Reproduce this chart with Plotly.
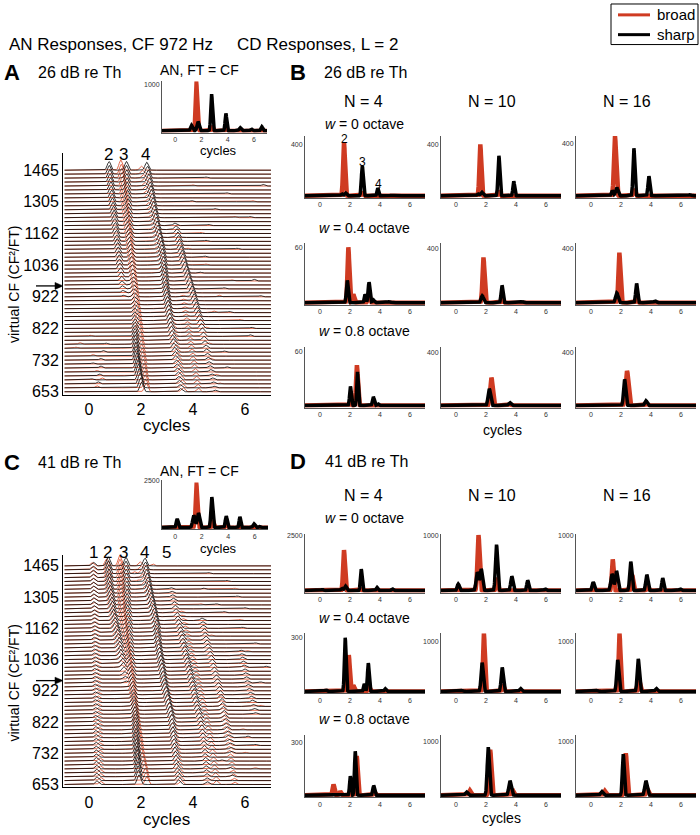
import numpy as np
import plotly.graph_objects as go

W, H = 700, 835
FONT = "Liberation Sans, Arial, sans-serif"
RED = "#cf3b22"
RED_WF = "#de5a3a"

# ---------------- shared tick data ----------------
ROW_TICKS = [0, 8, 16, 24, 32, 40, 48, 56]
ROW_LABELS = ["653", "732", "822", "922", "1036", "1162", "1305", "1465"]
CYCLE_TICKS = [0, 2, 4, 6]

# ---------------- Panel A waterfall (26 dB) ----------------
# ridge: first row, peak position per row (1/100 cycle), peak height per row (1/10 row spacing)
A_k2_row0 = 24
A_k2_x = [132,130,128,126,125,123,121,119,117,116,114,112,110,108,107,105,103,101,99,98,96,94,92,90,89,87,85,84,83,81,80,78,77]
A_k2_a = [4,6,8,10,12,13,14,15,15,16,16,16,17,17,17,18,18,18,18,19,19,19,19,20,20,20,20,21,21,21,22,22,22]

A_r3_row0 = 0
A_r3_x = [220,218,216,215,213,211,209,208,206,204,202,201,199,197,195,194,192,190,188,187,185,183,181,180,178,176,174,173,171,169,167,166,164,162,160,159,157,155,153,152,150,148,146,145,143,141,139,138,136,134,132,131,129,127,125,124,122]
A_r3_a = [22,22,23,23,23,22,22,21,21,20,20,20,20,20,20,20,20,20,20,20,21,21,21,21,21,21,21,21,21,21,21,21,21,21,21,22,22,22,22,22,22,22,22,23,23,23,23,23,24,24,24,24,25,25,25,25,26]

A_k3_row0 = 0
A_k3_x = [202,199,196,193,190,188,186,184,182,181,180,179,178,178,177,177,177,177,176,176,175,175,174,174,173,172,171,170,169,168,167,166,165,164,163,162,161,160,159,158,157,156,155,154,153,152,151,150,149,148,147,146,146,145,145,144,144]
A_k3_a = [24,26,28,29,30,30,30,29,28,27,26,25,24,22,20,18,16,14,13,12,12,11,11,10,10,10,10,10,10,10,10,11,11,12,12,12,13,13,13,14,14,15,15,16,16,17,17,18,18,19,19,20,20,21,21,22,22]

A_k4_row0 = 0
A_k4_x = [352,350,347,345,343,340,338,336,333,331,329,326,324,321,319,317,314,312,310,308,306,304,302,300,298,296,295,293,292,290,289,287,286,284,282,280,278,275,272,268,265,262,259,256,254,251,248,246,243,240,238,235,233,230,228,225,222]
A_k4_a = [8,8,9,9,10,10,11,11,12,12,13,13,14,14,15,16,17,18,19,20,21,22,22,23,23,23,23,23,23,23,23,22,22,22,22,22,22,21,21,21,21,21,21,21,21,21,21,21,21,21,21,20,20,20,20,20,20]

A_r4_row0 = 0
A_r4_x = [362,360,358,355,353,350,348,345,343,340,338,335,333,330,328,325,322,320,317,314,311,308,305,302,299,296,293,290,287,284,281,278,275,272,269,266,263,260,257,254,251,248,245,242,239,236,233,230,227,224,221,218,215,212,209,205,201]
A_r4_a = [10,10,10,10,10,10,10,10,10,9,9,9,9,9,9,9,9,8,8,8,8,8,8,8,8,7,7,7,7,7,7,7,7,7,7,7,7,7,7,7,7,7,7,7,7,7,8,8,8,8,8,9,9,9,9,10,10]

A_k5_row0 = 0
A_k5_x = [485,482,478,475,472,468,465,461,458,455,452,449,445,442,439,435,432,428,424,420,416,412,408,404,400,396,391,387,382,378,374,369,365,361,358,354,351,348,345,341,338,334,330]
A_k5_a = [4,4,5,5,5,6,6,6,7,7,8,8,9,10,11,12,13,14,15,16,16,17,17,18,18,18,18,19,19,19,19,19,19,19,18,18,17,16,15,14,12,9,6]

A_r5_row0 = 0
A_r5_x = [420,418,415,413,410,408,405,403,400,398,395,393,390,388,385,383,380,378,375,373,370,368,365,363,360]
A_r5_a = [9,9,9,9,9,9,9,9,9,8,8,8,8,8,8,8,8,7,7,6,6,5,5,4,4]

# small isolated bumps: (row, position in cycles, height in 1/10 row)
A_minor_black = [(2,0.35,5),(4,0.40,5),(6,0.45,5),(8,0.45,4),(10,0.55,4),(12,0.65,3),(3,0.10,3),(7,0.15,3),
                 (30,4.25,3),(34,4.45,3),(38,4.5,3),(42,4.6,3),(46,4.85,3),(50,5.3,3),(36,5.7,3),(28,6.35,4),
                 (24,6.6,3),(44,6.2,3),(52,6.7,4),(54,4.5,3),(48,3.95,3),(26,5.2,3),(20,5.4,3),(14,6.2,4),
                 (16,6.25,3),(10,5.2,3),(6,5.3,3)]
A_minor_red = [(1,0.30,5),(3,0.50,5),(5,0.30,4),(9,0.15,4),(12,-0.35,4),(11,-0.5,3),(14,0.05,3),
               (20,4.8,4),(24,5.0,4),(28,5.5,3),(32,4.5,3),(36,3.8,3),(40,4.3,3),(44,5.6,3),(48,6.3,3),
               (52,4.0,3),(18,5.8,3),(8,4.7,4),(4,4.9,4),(2,5.0,3),(16,4.5,4),(12,4.6,4)]

# ---------------- Panel C waterfall (41 dB) ----------------
C_k1_row0 = 0
C_k1_x = [30,30,29,29,29,28,28,28,28,27,27,27,27,26,26,26,26,25,25,25,25,24,24,24,24,23,23,23,23,22,22,22,22,21,21,21,21,20,20,20,20,19,19,19,19,19,18,18,18,18,18,17,17,17,17,17,17]
C_k1_a = [9,9,9,9,9,9,9,8,8,8,8,8,8,8,8,8,8,7,7,7,7,7,7,7,7,7,7,7,7,7,7,7,7,7,7,7,7,7,7,7,7,7,7,7,7,8,8,8,8,8,8,8,8,9,9,9,9]

C_r1_row0 = 0
C_r1_x = [45,45,44,44,43,43,42,42,41,41,40,40,39,39,38,38,37,37,36,36,35,35,34,34,33,33,32,32,31,31,30,30,29,29,28,28,27,27,26,26,25,24,23,23,22,21,20,20,19,18,17,17,16,15,14,13,12]
C_r1_a = [8,8,8,8,8,8,8,8,8,7,7,7,7,7,7,7,7,7,7,7,7,7,7,7,7,6,6,6,6,6,6,6,6,6,6,6,6,6,6,6,6,7,7,7,7,7,7,7,7,8,8,8,8,8,8,8,8]

C_k2_row0 = 26
C_k2_x = [142,139,137,134,131,129,126,123,121,118,116,113,110,107,103,100,98,95,93,90,88,86,84,82,80,79,78,77,76,75,74]
C_k2_a = [5,7,9,11,13,14,15,16,16,17,17,17,18,18,18,18,19,19,19,20,20,20,21,21,21,22,22,22,23,23,23]

C_r2_row0 = 30
C_r2_x = [125,122,119,116,113,111,108,106,103,100,97,94,92,89,87,84,82,80,78,76,74,73,72,71,70,69,68]
C_r2_a = [6,8,9,10,10,11,11,12,12,12,13,13,13,14,14,14,15,15,15,16,16,16,17,17,17,18,18]

C_r3_row0 = 0
C_r3_x = [222,219,216,213,210,207,204,201,198,196,194,192,190,188,186,184,182,180,178,176,174,172,170,168,166,164,162,160,158,156,154,152,150,148,146,144,142,140,138,136,134,132,130,128,127,126,125,124,123,122,122,121,121,120,120,119,118]
C_r3_a = [20,21,22,23,23,23,22,22,22,22,22,22,22,22,22,22,22,22,22,22,22,22,22,22,22,22,22,22,22,22,22,22,23,23,23,23,23,23,23,24,24,24,24,24,24,25,25,25,25,25,25,26,26,26,26,27,27]

C_k3_row0 = 0
C_k3_x = [192,190,189,188,187,186,185,184,183,182,181,180,180,179,179,178,178,177,176,175,174,173,172,171,170,169,168,167,166,165,164,162,161,160,159,158,157,156,155,154,153,152,151,150,149,148,147,146,146,145,145,144,144,143,143,142,142]
C_k3_a = [25,27,28,29,30,30,30,29,28,27,26,25,24,24,23,22,21,20,19,18,17,16,16,15,15,15,15,15,15,15,15,16,16,16,16,16,17,17,17,17,18,18,18,18,19,19,19,19,20,20,20,20,21,21,21,22,22]

C_k4_row0 = 0
C_k4_x = [344,342,341,339,337,335,334,332,330,328,327,325,324,322,321,319,318,315,312,309,305,302,299,296,292,290,287,285,283,280,278,276,273,271,269,267,265,264,262,261,260,257,254,251,248,245,242,238,235,232,229,227,224,221,219,217,215]
C_k4_a = [12,12,13,13,14,14,15,15,16,16,17,17,18,18,19,19,20,20,21,21,21,22,22,22,22,22,22,22,22,22,22,22,22,22,22,22,22,22,22,22,22,22,22,22,22,22,22,22,22,22,22,21,21,21,21,20,20]

C_r4_row0 = 0
C_r4_x = [355,353,351,349,347,345,343,341,339,337,335,333,331,329,327,325,323,320,317,314,311,308,305,302,299,296,293,290,287,284,281,278,275,272,269,266,263,260,257,254,251,248,245,242,239,236,233,229,225,222,218,214,210,206,203,200,196]
C_r4_a = [10,10,10,10,10,10,10,10,10,10,10,10,10,10,10,10,10,9,9,9,9,9,9,9,9,9,9,9,9,9,9,9,9,9,9,9,9,9,9,9,9,9,9,9,9,10,10,10,10,10,10,10,11,11,11,11,11]

C_k5_row0 = 0
C_k5_x = [455,454,453,451,450,449,448,446,445,443,441,439,437,435,433,430,427,424,421,417,414,411,407,404,401,398,394,391,388,384,381,378,374,371,368,364,361,358,354,351,348,344,341,338,334,331,328,324,321,318,316]
C_k5_a = [7,7,8,8,8,9,9,9,10,10,11,11,12,12,13,13,14,14,15,15,15,16,16,16,16,16,16,16,16,16,16,16,16,16,16,15,15,15,14,14,13,13,12,11,10,9,8,7,6,5,4]

C_r5_row0 = 0
C_r5_x = [490,488,486,484,482,480,478,476,474,472,469,466,463,460,457,454,451,448,445,441,438,435,431,428,425,421,418,414,411,407,404,400,397,393,390,386,383,379,376,372,369,365,362,358,355]
C_r5_a = [10,10,10,10,10,10,10,10,10,10,10,10,10,10,10,10,10,9,9,9,9,9,9,9,9,8,8,8,8,8,8,8,8,7,7,7,7,6,6,6,6,5,5,4,4]

C_k6_row0 = 8
C_k6_x = [548,546,544,541,538,535,532,529,526,523,519,516,513,510,507,504,501,497,493,489,485,481,477,473,469,465,461,457,453,449,446,443,440,437,434]
C_k6_a = [5,5,6,6,7,7,8,8,9,9,10,10,10,11,11,11,11,11,11,11,11,11,11,11,11,11,11,10,10,10,9,9,8,7,6]

C_r6_row0 = 0
C_r6_x = [560,558,555,553,550,548,545,543,540,538,535,533,530,528,525,523,520,518,515,513,510,508,505]
C_r6_a = [6,6,7,7,7,8,8,8,8,8,8,8,8,8,8,8,8,7,7,6,6,5,5]

C_k7_row0 = 18
C_k7_x = [640,636,632,628,624,620,616,612,608,605,602,599,596,593,590,587,584]
C_k7_a = [4,5,5,6,6,6,6,6,6,6,6,6,6,6,6,5,4]

C_minor_black = [(45,6.0,3),(48,5.7,3),(52,5.3,3),(36,6.4,3),(40,5.9,3),(12,6.1,4),(10,6.4,3),(4,5.4,4),
                 (2,5.5,4),(6,5.1,3),(30,6.8,3),(26,6.6,3),(54,4.6,3),(50,4.4,3),(46,4.9,3),(44,5.2,3)]
C_minor_red = [(54,1.75,5),(52,1.9,4),(56,2.45,5),(50,5.6,3),(42,5.8,3),(34,6.1,3),(30,5.9,3),(14,5.9,3),
               (8,6.0,3),(4,6.4,3),(38,4.7,3),(46,4.3,3),(20,6.6,3)]

# ---------------- insets "AN, FT = CF": peaks (position, height, width) ----------------
IA_red = [(1.62, 1077, .07), (2.85, 110, .05), (3.9, 60, .05)]
IA_black = [(1.25, 120, .08), (1.75, 200, .08), (2.78, 800, .065), (3.87, 380, .06), (4.95, 70, .08), (5.8, 40, .07), (6.6, 90, .07)]
IC_red = [(1.60, 2400, .07), (2.85, 400, .06), (3.85, 150, .06)]
IC_black = [(0.15, 460, .07), (1.40, 650, .09), (1.75, 780, .09), (2.76, 1630, .07), (3.85, 610, .07), (4.88, 575, .06), (5.95, 200, .08), (6.4, 60, .07)]

# ---------------- Panel B (26 dB) small panels: peaks (position, height, width) ----------------
B_w0_N4_red = [(1.60, 415, .06), (2.85, 30, .05)]
B_w0_N4_black = [(1.45, 15, .06), (1.70, 22, .07), (2.82, 232, .06), (3.85, 60, .05), (4.8, 4, .1), (6.6, 3, .1)]
B_w0_N10_red = [(1.62, 400, .06), (2.88, 40, .05)]
B_w0_N10_black = [(1.45, 15, .06), (1.72, 28, .08), (2.86, 311, .06), (3.85, 113, .055)]
B_w0_N16_red = [(1.60, 455, .07), (2.88, 50, .06)]
B_w0_N16_black = [(1.42, 40, .06), (1.72, 62, .08), (2.86, 363, .06), (3.86, 150, .06), (6.6, 8, .08)]
B_w4_N4_red = [(1.89, 60, .06), (2.22, 9, .06), (3.25, 10, .06)]
B_w4_N4_black = [(1.82, 24, .06), (3.0, 9, .05), (3.27, 22, .06), (3.55, 3, .06), (4.6, 1, .1)]
B_w4_N10_red = [(1.83, 336, .065), (3.1, 30, .05)]
B_w4_N10_black = [(1.75, 50, .08), (3.07, 128, .06), (4.4, 8, .08)]
B_w4_N16_red = [(1.89, 371, .065), (3.05, 40, .05)]
B_w4_N16_black = [(1.72, 71, .08), (3.04, 143, .06), (4.27, 12, .07)]
B_w8_N4_red = [(2.46, 44.5, .06), (2.05, 6, .05)]
B_w8_N4_black = [(2.03, 21, .055), (2.50, 37, .05), (3.56, 9.5, .06), (3.85, 2, .06)]
B_w8_N10_red = [(2.36, 211, .08), (3.6, 10, .07)]
B_w8_N10_black = [(2.22, 126, .08), (3.58, 22, .08), (0.9, 2, .1)]
B_w8_N16_red = [(2.40, 262, .09), (3.7, 15, .07)]
B_w8_N16_black = [(2.24, 198, .07), (3.66, 36, .08)]
B_tick = [[400, 400, 400], [60, 400, 400], [60, 400, 400]]
B_top = [[1.17, 1.17, 1.15], [1.07, 1.1, 1.1], [1.07, 1.1, 1.1]]

# ---------------- Panel D (41 dB) small panels ----------------
D_w0_N4_red = [(1.60, 1835, .06), (2.75, 60, .05)]
D_w0_N4_black = [(0.15, 50, .06), (1.45, 100, .07), (1.70, 200, .07), (2.75, 975, .055), (3.80, 140, .06), (4.82, 80, .06)]
D_w0_N10_red = [(1.50, 1005, .07), (2.72, 230, .06)]
D_w0_N10_black = [(0.15, 120, .07), (1.42, 330, .08), (1.68, 390, .08), (2.70, 830, .07), (3.72, 260, .07), (4.78, 186, .06), (5.95, 30, .06)]
D_w0_N16_red = [(1.45, 565, .06), (2.75, 280, .06), (3.8, 60, .06)]
D_w0_N16_black = [(0.15, 153, .07), (1.40, 300, .08), (1.70, 356, .08), (2.65, 525, .07), (3.72, 288, .07), (4.78, 225, .06), (5.95, 30, .06)]
D_w4_N4_red = [(1.92, 204, .06), (2.22, 34, .06), (3.25, 30, .06)]
D_w4_N4_black = [(0.4, 8, .06), (1.68, 301, .055), (2.95, 43, .05), (3.22, 159, .055), (4.35, 15, .06)]
D_w4_N10_red = [(1.86, 1165, .06), (3.12, 140, .06)]
D_w4_N10_black = [(0.4, 20, .07), (1.74, 577, .07), (3.08, 480, .07), (4.3, 60, .07)]
D_w4_N16_red = [(1.90, 1165, .06), (3.22, 217, .06)]
D_w4_N16_black = [(0.4, 20, .07), (1.78, 635, .07), (3.15, 654, .07), (4.35, 60, .07)]
D_w8_N4_red = [(0.90, 62, .06), (1.35, 22, .05), (2.45, 225, .06), (3.62, 20, .06)]
D_w8_N4_black = [(2.02, 109, .05), (2.35, 252, .05), (3.58, 55, .06)]
D_w8_N10_red = [(0.92, 89, .07), (2.28, 850, .07), (3.75, 113, .07)]
D_w8_N10_black = [(0.70, 60, .08), (2.15, 898, .07), (3.60, 268, .08)]
D_w8_N16_red = [(0.92, 80, .07), (2.32, 786, .07), (3.75, 120, .07)]
D_w8_N16_black = [(0.72, 70, .08), (2.15, 768, .06), (3.66, 268, .08)]
D_tick = [[2500, 1000, 1000], [300, 1000, 1000], [300, 1000, 1000]]
D_top = [[1.02, 1.02, 1.02], [1.09, 1.17, 1.17], [1.15, 1.125, 1.125]]

N_LABELS = ["N = 4", "N = 10", "N = 16"]
W_LABELS = ["<i>w</i> = 0 octave", "<i>w</i> = 0.4 octave", "<i>w</i> = 0.8 octave"]

# ================= construction =================
XG = np.arange(-1.0, 7.0001, 0.01)
XW = np.arange(-0.94, 7.0001, 0.02)


def peaks_curve(peaks, xg):
    y = np.zeros_like(xg)
    for p, a, s in peaks:
        y += a * np.exp(-0.5 * ((xg - p) / s) ** 2)
    return y


def waterfall(ridges, minors, n_rows=57, sigma=0.065):
    ys = np.zeros((n_rows, len(XW)))
    for r0, xs, amps in ridges:
        for k, (xc, a) in enumerate(zip(xs, amps)):
            r = r0 + k
            if r < n_rows:
                ys[r] += a / 10.0 * np.exp(-0.5 * ((XW - xc / 100.0) / sigma) ** 2)
    for r, xc, a in minors:
        ys[r] += a / 10.0 * np.exp(-0.5 * ((XW - xc) / 0.06) ** 2)
    X, Y = [], []
    for r in range(n_rows):
        X.extend(XW.tolist() + [None])
        Y.extend((r + ys[r]).tolist() + [None])
    return X, Y


layout = dict(width=W, height=H, margin=dict(l=0, r=0, t=0, b=0, pad=0), autosize=False,
              paper_bgcolor="white", plot_bgcolor="rgba(0,0,0,0)", showlegend=False,
              font=dict(family=FONT, color="black"))
traces = []
annotations = []
shapes = []
count = [0]


def new_axes(xpx, ypx, xr, yr, xkw, ykw):
    count[0] += 1
    i = count[0]
    s = "" if i == 1 else str(i)
    base = dict(showgrid=False, zeroline=False, showline=True, fixedrange=True, ticks="")
    layout["xaxis" + s] = dict(base, domain=[xpx[0] / W, xpx[1] / W], range=xr, anchor="y" + s, **xkw)
    layout["yaxis" + s] = dict(base, domain=[1 - ypx[1] / H, 1 - ypx[0] / H], range=yr, anchor="x" + s, **ykw)
    return "x" + s, "y" + s


def text(s, x, y, size, xanchor="center", weight="normal", **kw):
    annotations.append(dict(text=s, x=x / W, y=1 - y / H, xref="paper", yref="paper", showarrow=False,
                            xanchor=xanchor, yanchor="middle",
                            font=dict(size=size, family=FONT, color="black", weight=weight), **kw))


def add_curve(xa, ya, x, y, color, width):
    traces.append(go.Scatter(x=x, y=y, mode="lines", line=dict(color=color, width=width),
                             xaxis=xa, yaxis=ya, hoverinfo="skip"))


def waterfall_panel(ypx, yr, red_ridges, blk_ridges, red_minor, blk_minor):
    xa, ya = new_axes((63, 271), ypx, [-1, 7], yr,
                      dict(tickvals=CYCLE_TICKS, tickfont=dict(size=16), linecolor="black", linewidth=1),
                      dict(tickvals=ROW_TICKS, ticktext=ROW_LABELS, tickfont=dict(size=16), linecolor="black", linewidth=1))
    xr, yrr = waterfall(red_ridges, red_minor)
    add_curve(xa, ya, xr, yrr, RED_WF, 0.9)
    xb, yb = waterfall(blk_ridges, blk_minor)
    add_curve(xa, ya, xb, yb, "black", 0.8)


def small_panel(xpx, ypx, red, blk, tick, topf, lw_red=4.5, lw_blk=3.5, ytick_size=7):
    top = tick * topf
    xa, ya = new_axes(xpx, ypx, [-1, 7], [-0.035 * top, top],
                      dict(tickvals=CYCLE_TICKS, tickfont=dict(size=7, color="#333"), linecolor="#555", linewidth=1),
                      dict(tickvals=[tick], ticktext=[str(tick)], tickfont=dict(size=ytick_size, color="#333"),
                           linecolor="#555", linewidth=1))
    add_curve(xa, ya, XG, peaks_curve(red, XG), RED, lw_red)
    add_curve(xa, ya, XG, peaks_curve(blk, XG), "black", lw_blk)


# --- Panel A ---
waterfall_panel((152, 396), [-0.75, 60.25],
                [(A_r3_row0, A_r3_x, A_r3_a), (A_r4_row0, A_r4_x, A_r4_a), (A_r5_row0, A_r5_x, A_r5_a)],
                [(A_k2_row0, A_k2_x, A_k2_a), (A_k3_row0, A_k3_x, A_k3_a), (A_k4_row0, A_k4_x, A_k4_a),
                 (A_k5_row0, A_k5_x, A_k5_a)],
                A_minor_red, A_minor_black)
small_panel((162, 267), (79, 131), IA_red, IA_black, 1000, 1.083, lw_red=4, lw_blk=3.5)

# --- Panel C ---
waterfall_panel((558, 793), [-0.76, 58.79],
                [(C_r1_row0, C_r1_x, C_r1_a), (C_r2_row0, C_r2_x, C_r2_a), (C_r3_row0, C_r3_x, C_r3_a),
                 (C_r4_row0, C_r4_x, C_r4_a), (C_r5_row0, C_r5_x, C_r5_a), (C_r6_row0, C_r6_x, C_r6_a)],
                [(C_k1_row0, C_k1_x, C_k1_a), (C_k2_row0, C_k2_x, C_k2_a), (C_k3_row0, C_k3_x, C_k3_a),
                 (C_k4_row0, C_k4_x, C_k4_a), (C_k5_row0, C_k5_x, C_k5_a), (C_k6_row0, C_k6_x, C_k6_a),
                 (C_k7_row0, C_k7_x, C_k7_a)],
                C_minor_red, C_minor_black)
small_panel((162, 268), (482, 532), IC_red, IC_black, 2500, 1.02, lw_red=4, lw_blk=3.5)

# --- Panels B and D ---
COLS = [(305, 425), (441, 561), (576, 696)]
B_ROWS = [(134, 197), (243, 305), (348, 409)]
D_ROWS = [(537, 596), (637, 698), (740, 803)]
B_red = [[B_w0_N4_red, B_w0_N10_red, B_w0_N16_red], [B_w4_N4_red, B_w4_N10_red, B_w4_N16_red],
         [B_w8_N4_red, B_w8_N10_red, B_w8_N16_red]]
B_blk = [[B_w0_N4_black, B_w0_N10_black, B_w0_N16_black], [B_w4_N4_black, B_w4_N10_black, B_w4_N16_black],
         [B_w8_N4_black, B_w8_N10_black, B_w8_N16_black]]
D_red = [[D_w0_N4_red, D_w0_N10_red, D_w0_N16_red], [D_w4_N4_red, D_w4_N10_red, D_w4_N16_red],
         [D_w8_N4_red, D_w8_N10_red, D_w8_N16_red]]
D_blk = [[D_w0_N4_black, D_w0_N10_black, D_w0_N16_black], [D_w4_N4_black, D_w4_N10_black, D_w4_N16_black],
         [D_w8_N4_black, D_w8_N10_black, D_w8_N16_black]]
for r in range(3):
    for c in range(3):
        small_panel(COLS[c], B_ROWS[r], B_red[r][c], B_blk[r][c], B_tick[r][c], B_top[r][c])
for r in range(3):
    for c in range(3):
        small_panel(COLS[c], D_ROWS[r], D_red[r][c], D_blk[r][c], D_tick[r][c], D_top[r][c])

# ================= text =================
text("AN Responses, CF 972 Hz", 7, 42, 17, xanchor="left")
text("CD Responses, L = 2", 235, 42, 17, xanchor="left")
text("A", 12, 70, 22, weight="bold")
text("26 dB re Th", 36, 70, 16, xanchor="left")
text("B", 298, 70, 22, weight="bold")
text("26 dB re Th", 322, 70, 16, xanchor="left")
text("C", 12, 465, 22, weight="bold")
text("41 dB re Th", 36, 465, 16, xanchor="left")
text("D", 298, 464, 22, weight="bold")
text("41 dB re Th", 323, 464, 16, xanchor="left")

text("AN, FT = CF", 199, 68, 14)
text("cycles", 218, 149, 13)
text("AN, FT = CF", 199, 473, 14)
text("cycles", 218, 551, 13)

text("cycles", 166, 427, 17)
text("cycles", 166, 825, 17)
text("virtual CF (CF\u00b2/FT)", 14, 285, 14, textangle=-90)
text("virtual CF (CF\u00b2/FT)", 14, 688, 14, textangle=-90)

for s, x in zip(["2", "3", "4"], [108, 124, 145]):
    text(s, x, 153, 17)
for s, x in zip(["1", "2", "3", "4", "5"], [93, 107, 123, 144, 166]):
    text(s, x, 555, 17)

NX = [363, 492, 627]
for c in range(3):
    text(N_LABELS[c], NX[c], 100, 16)
    text(N_LABELS[c], NX[c], 498, 16)
for r, (yb, yd) in enumerate(zip([122, 227, 332], [521, 622, 724])):
    text(W_LABELS[r], 364, yb, 14)
    text(W_LABELS[r], 364, yd, 14)
text("2", 344, 137, 12)
text("3", 362, 161, 12)
text("4", 378, 183, 12)
text("cycles", 502, 432, 14)
text("cycles", 501, 824, 14)

# arrows pointing at the CF = FT row (drawn as shapes)
for yy in [286, 685]:
    shapes.append(dict(type="line", xref="paper", yref="paper", x0=36 / W, x1=57 / W, y0=1 - yy / H, y1=1 - yy / H,
                       line=dict(color="black", width=1.3)))
    shapes.append(dict(type="path", xref="paper", yref="paper",
                       path="M {:.5f} {:.5f} L {:.5f} {:.5f} L {:.5f} {:.5f} Z".format(
                           63 / W, 1 - yy / H, 55 / W, 1 - (yy - 3.5) / H, 55 / W, 1 - (yy + 3.5) / H),
                       fillcolor="black", line=dict(color="black", width=0.5)))

# legend
shapes.append(dict(type="rect", xref="paper", yref="paper", x0=611 / W, x1=698 / W, y0=1 - 42 / H, y1=1 - 1 / H,
                   line=dict(color="black", width=1), fillcolor="white"))
shapes.append(dict(type="line", xref="paper", yref="paper", x0=618 / W, x1=650 / W, y0=1 - 12 / H, y1=1 - 12 / H,
                   line=dict(color=RED, width=3)))
shapes.append(dict(type="line", xref="paper", yref="paper", x0=618 / W, x1=650 / W, y0=1 - 32 / H, y1=1 - 32 / H,
                   line=dict(color="black", width=3)))
text("broad", 655, 12, 15, xanchor="left")
text("sharp", 655, 32, 15, xanchor="left")

layout["annotations"] = annotations
layout["shapes"] = shapes
fig = go.Figure(data=traces, layout=layout)
fig.write_html("out.html", config={"displayModeBar": False, "staticPlot": True},
               post_script="document.body.style.margin='0';document.body.style.padding='0';"
                           "document.documentElement.style.overflow='hidden';")
